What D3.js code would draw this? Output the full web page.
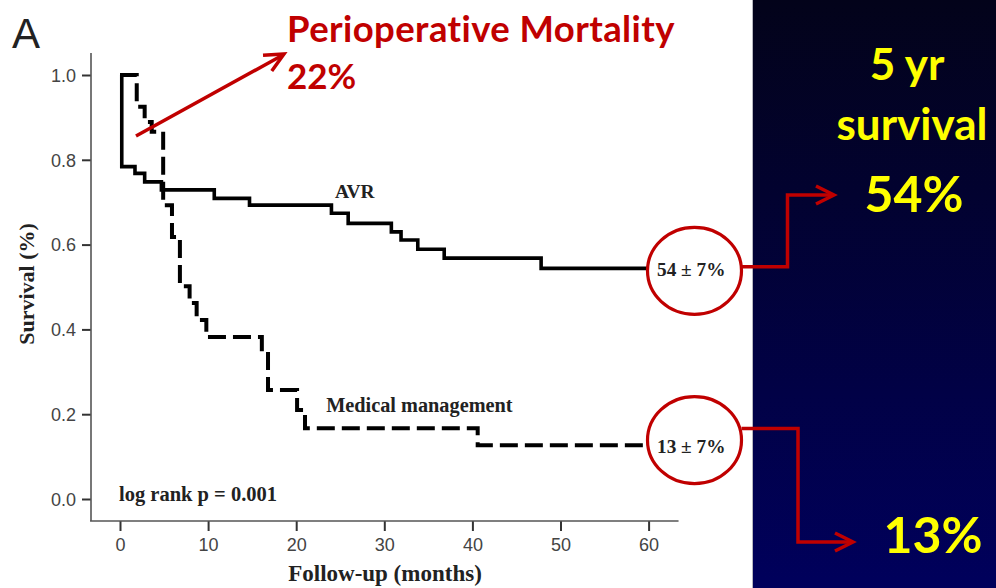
<!DOCTYPE html>
<html>
<head>
<meta charset="utf-8">
<script src="https://cdn.jsdelivr.net/npm/d3@7"></script>
<style>
  html, body { margin: 0; padding: 0; background: #fff; }
  svg { display: block; }
</style>
</head>
<body>
<svg id="chart" width="996" height="588"></svg>
<script>
// Kaplan–Meier survival, AVR vs medical management
const avrTimes = [0, 0.2, 1.7, 2.8, 4.7, 10.7, 14.7, 24.0, 25.9, 30.8, 31.9, 33.8, 36.8, 47.8, 60];
const avrSurv  = [1.0, 0.784, 0.768, 0.748, 0.729, 0.709, 0.693, 0.674, 0.650, 0.630, 0.611, 0.589, 0.568, 0.544, 0.544];

const medTimes = [0, 1.9, 2.8, 3.6, 4.9, 5.9, 6.8, 7.9, 8.7, 9.8, 16.1, 16.8, 20.1, 21.0, 40.6, 60];
const medSurv  = [1.0, 0.925, 0.889, 0.866, 0.693, 0.618, 0.502, 0.462, 0.422, 0.382, 0.347, 0.257, 0.210, 0.167, 0.127, 0.127];

const xTicks = [0, 10, 20, 30, 40, 50, 60];
const yTicks = [0.0, 0.2, 0.4, 0.6, 0.8, 1.0];

const seriesLabels = ["AVR", "Medical management"];
const endLabels = ["54 \u00b1 7%", "13 \u00b1 7%"];
const summaryValues = ["54%", "13%"];

const svg = d3.select("#chart");
const RED = "#c00000";
const serif = "Liberation Serif, Times New Roman, serif";
const sans = "Liberation Sans, Arial, sans-serif";
const callFont = "Lato, 'Noto Sans', sans-serif";

const x = d3.scaleLinear().domain([0, 60]).range([120, 648.6]);
const y = d3.scaleLinear().domain([0, 1]).range([499, 75]);

// right-hand panel background
const defs = svg.append("defs");
const grad = defs.append("linearGradient").attr("id", "panelGrad")
  .attr("x1", 0).attr("y1", 0).attr("x2", 0).attr("y2", 1);
grad.append("stop").attr("offset", "0%").attr("stop-color", "#03031a");
grad.append("stop").attr("offset", "100%").attr("stop-color", "#00005c");

svg.append("rect").attr("x", 753).attr("y", 0).attr("width", 243).attr("height", 588)
  .attr("fill", "url(#panelGrad)");
svg.append("line").attr("x1", 752.5).attr("x2", 752.5).attr("y1", 0).attr("y2", 588)
  .attr("stroke", "#b8b8c0").attr("stroke-width", 1);

// panel letter
svg.append("text").attr("x", 12).attr("y", 48)
  .attr("font-family", sans).attr("font-size", 42)
  .attr("fill", "#222").text("A");

// axes
const axisColor = "#555";
const yAxis = svg.append("g").attr("transform", "translate(91,0)")
  .call(d3.axisLeft(y).tickValues(yTicks).tickFormat(d3.format(".1f")).tickSize(9).tickSizeOuter(0));
yAxis.select(".domain").remove();
yAxis.append("line").attr("x1", 0).attr("x2", 0)
  .attr("y1", y(1.052)).attr("y2", y(-0.052))
  .attr("stroke", axisColor).attr("stroke-width", 1.6);
yAxis.selectAll(".tick line").attr("stroke", "#333").attr("stroke-width", 2);
yAxis.selectAll(".tick text").attr("x", -15).attr("dy", "0.35em")
  .attr("font-family", sans).attr("font-size", 18).attr("fill", "#444");

const xAxis = svg.append("g").attr("transform", "translate(0,521)")
  .call(d3.axisBottom(x).tickValues(xTicks).tickFormat(d3.format("d")).tickSize(10).tickSizeOuter(0));
xAxis.select(".domain").remove();
xAxis.append("line").attr("y1", 0).attr("y2", 0)
  .attr("x1", x(-3.4)).attr("x2", x(63.4))
  .attr("stroke", axisColor).attr("stroke-width", 1.6);
xAxis.selectAll(".tick line").attr("stroke", "#333").attr("stroke-width", 2);
xAxis.selectAll(".tick text").attr("y", 17).attr("dy", "0.71em")
  .attr("font-family", sans).attr("font-size", 18).attr("fill", "#444");

// axis titles
svg.append("text")
  .attr("transform", "translate(34,284) rotate(-90)")
  .attr("text-anchor", "middle")
  .attr("font-family", serif).attr("font-weight", "bold").attr("font-size", 22).attr("fill", "#222")
  .text("Survival (%)");
svg.append("text").attr("x", 385).attr("y", 581).attr("text-anchor", "middle")
  .attr("font-family", serif).attr("font-weight", "bold").attr("font-size", 23).attr("fill", "#222")
  .text("Follow-up (months)");

// survival curves
const stepLine = d3.line()
  .x(d => x(d[0])).y(d => y(d[1]))
  .curve(d3.curveStepAfter);

const avrData = d3.zip(avrTimes, avrSurv);
const medData = d3.zip(medTimes, medSurv);

svg.append("path").datum(medData).attr("d", stepLine)
  .attr("fill", "none").attr("stroke", "#000").attr("stroke-width", 4)
  .attr("stroke-dasharray", "18,7");
svg.append("path").datum(avrData).attr("d", stepLine)
  .attr("fill", "none").attr("stroke", "#000").attr("stroke-width", 3.6);

// curve labels
svg.append("text").attr("x", x(24.4)).attr("y", 198)
  .attr("font-family", serif).attr("font-weight", "bold").attr("font-size", 19.5)
  .attr("fill", "#222").text(seriesLabels[0]);
svg.append("text").attr("x", x(23.4)).attr("y", 412)
  .attr("font-family", serif).attr("font-weight", "bold").attr("font-size", 20.3)
  .attr("fill", "#222").text(seriesLabels[1]);
svg.append("text").attr("x", 119).attr("y", 501)
  .attr("font-family", serif).attr("font-weight", "bold").attr("font-size", 20.5)
  .attr("fill", "#222").text("log rank p = 0.001");

// end-of-follow-up estimates, circled
const finals = [avrSurv[avrSurv.length - 1], medSurv[medSurv.length - 1]];
const circleY = [y(finals[0]) + 2.5, y(finals[1]) - 5];
finals.forEach((v, i) => {
  svg.append("text").attr("x", 657).attr("y", y(v) + 7.5)
    .attr("font-family", serif).attr("font-weight", "bold").attr("font-size", 19.3)
    .attr("fill", "#222").text(endLabels[i]);
  svg.append("ellipse").attr("cx", 694.5).attr("cy", circleY[i])
    .attr("rx", 47).attr("ry", 43.5)
    .attr("fill", "none").attr("stroke", RED).attr("stroke-width", 3.2);
});

// red connectors to the summary values
function chevron(tipX, tipY) {
  svg.append("path")
    .attr("d", `M${tipX - 18},${tipY - 9}L${tipX},${tipY}L${tipX - 18},${tipY + 9}`)
    .attr("fill", "none").attr("stroke", RED).attr("stroke-width", 3.5);
}
svg.append("path")
  .attr("d", `M741.5,${y(finals[0]) - 1.5}H787.5V195H832`)
  .attr("fill", "none").attr("stroke", RED).attr("stroke-width", 3.5);
chevron(834, 195);
svg.append("path")
  .attr("d", `M741.5,428.5H798V542H851`)
  .attr("fill", "none").attr("stroke", RED).attr("stroke-width", 3.5);
chevron(853, 542);

// perioperative mortality callout
svg.append("line").attr("x1", 136).attr("y1", 136).attr("x2", 282).attr("y2", 55.5)
  .attr("stroke", RED).attr("stroke-width", 3.5);
(function () {
  const tx = 284, ty = 54;
  const ang = Math.atan2(54 - 136, 284 - 136);
  const L = 19, W = 9;
  const bx = tx - L * Math.cos(ang), by = ty - L * Math.sin(ang);
  const nx = -Math.sin(ang) * W, ny = Math.cos(ang) * W;
  svg.append("path")
    .attr("d", `M${bx + nx},${by + ny}L${tx},${ty}L${bx - nx},${by - ny}`)
    .attr("fill", "none").attr("stroke", RED).attr("stroke-width", 3.5);
})();

svg.append("text").attr("x", 287).attr("y", 42)
  .attr("font-family", callFont).attr("font-weight", "bold").attr("font-size", 36.5)
  .attr("letter-spacing", 0.4)
  .attr("fill", RED).text("Perioperative Mortality");
svg.append("text").attr("x", 287).attr("y", 89)
  .attr("font-family", callFont).attr("font-weight", "bold").attr("font-size", 35)
  .attr("fill", RED).text("22%");

// summary text on the panel
const YEL = "#ffff00";
const summary = [
  { t: "5 yr", x: 907, y: 80, s: 44 },
  { t: "survival", x: 912, y: 140, s: 44 },
  { t: summaryValues[0], x: 914, y: 212, s: 50 },
  { t: summaryValues[1], x: 933, y: 553, s: 50 }
];
summary.forEach(d => {
  svg.append("text").attr("x", d.x).attr("y", d.y).attr("text-anchor", "middle")
    .attr("font-family", callFont).attr("font-weight", "bold").attr("font-size", d.s)
    .attr("fill", YEL).text(d.t);
});
</script>
</body>
</html>
